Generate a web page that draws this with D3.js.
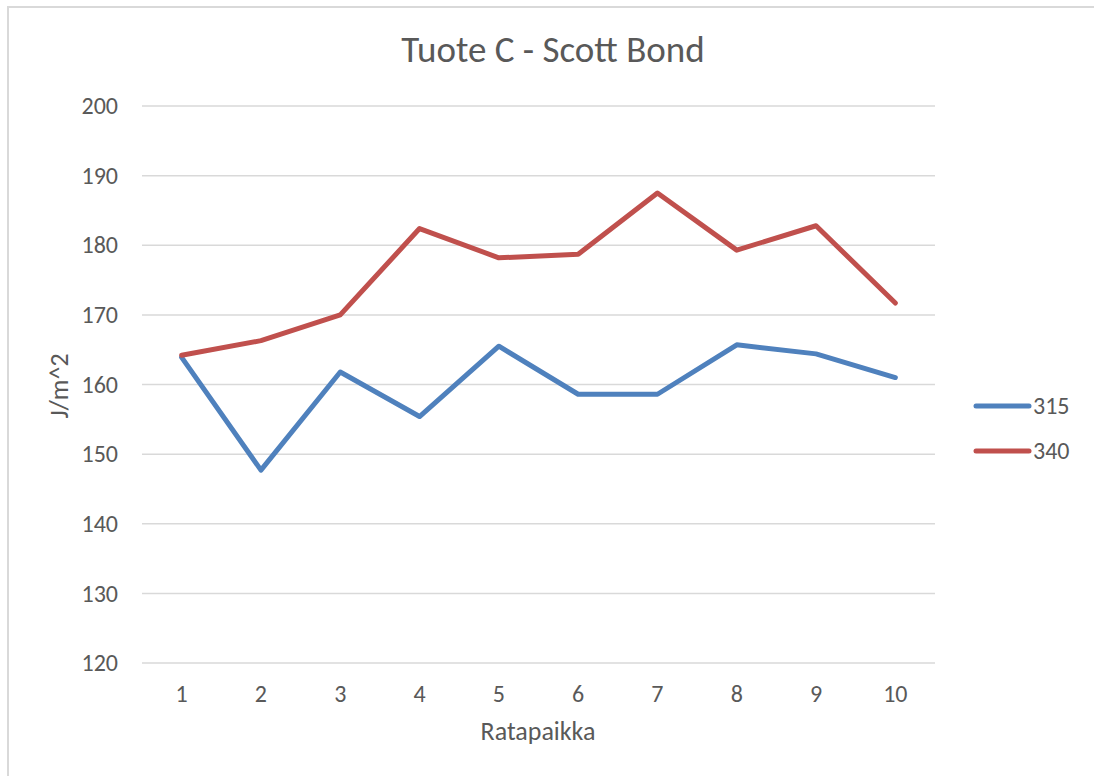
<!DOCTYPE html>
<html>
<head>
<meta charset="utf-8">
<script src="https://cdn.jsdelivr.net/npm/d3@7"></script>
<style>
  body { margin: 0; background: #fff; }
  text { font-family: Carlito, "Open Sans", "Noto Sans", sans-serif; fill: #595959; }
</style>
</head>
<body>
<svg id="chart" width="1094" height="776"></svg>
<script>
// data
const positions = [1, 2, 3, 4, 5, 6, 7, 8, 9, 10];
const series315 = [163.9, 147.7, 161.8, 155.4, 165.5, 158.6, 158.6, 165.7, 164.4, 161.0];
const series340 = [164.2, 166.3, 170.0, 182.4, 178.2, 178.7, 187.5, 179.3, 182.8, 171.7];
const yTicks = [120, 130, 140, 150, 160, 170, 180, 190, 200];
const seriesNames = ["315", "340"];
const colors = ["#4f81bd", "#c0504d"];

const svg = d3.select("#chart");
const margin = { top: 106, left: 142, right: 159, bottom: 113 };
const width = 1094, height = 776;
const fontFam = 'Carlito, "Open Sans", sans-serif';

// outer border (chart area frame, cut off on right/bottom)
svg.append("rect")
  .attr("x", 8).attr("y", 7)
  .attr("width", width + 10).attr("height", height + 10)
  .attr("fill", "#fff")
  .attr("stroke", "#d9d9d9")
  .attr("stroke-width", 2);

const x = d3.scaleBand()
  .domain(positions)
  .range([margin.left, width - margin.right])
  .padding(0);

const y = d3.scaleLinear()
  .domain([120, 200])
  .range([height - margin.bottom, margin.top]);

// gridlines
svg.append("g")
  .selectAll("line")
  .data(yTicks)
  .enter()
  .append("line")
  .attr("x1", margin.left)
  .attr("x2", width - margin.right)
  .attr("y1", (d) => y(d))
  .attr("y2", (d) => y(d))
  .attr("stroke", "#d9d9d9")
  .attr("stroke-width", 1.5);

// y axis labels
const yAxis = svg.append("g")
  .attr("transform", `translate(${margin.left - 24},0)`)
  .call(d3.axisLeft(y).tickValues(yTicks).tickSize(0).tickPadding(0));
yAxis.select(".domain").remove();
yAxis.selectAll("text")
  .attr("font-size", 24)
  .attr("fill", "#595959")
  .style("font-family", fontFam);

// x axis labels
const xAxis = svg.append("g")
  .attr("transform", `translate(0,702)`)
  .call(d3.axisBottom(x).tickSize(0).tickPadding(0));
xAxis.select(".domain").remove();
xAxis.selectAll("text")
  .attr("y", 0)
  .attr("dy", 0)
  .attr("font-size", 24)
  .attr("fill", "#595959")
  .style("font-family", fontFam);

// lines
const line = d3.line()
  .x((d, i) => x(positions[i]) + x.bandwidth() / 2)
  .y((d) => y(d));

[series315, series340].forEach((s, i) => {
  svg.append("path")
    .datum(s)
    .attr("d", line)
    .attr("fill", "none")
    .attr("stroke", colors[i])
    .attr("stroke-width", 5)
    .attr("stroke-linejoin", "round")
    .attr("stroke-linecap", "round");
});

// title
svg.append("text")
  .attr("x", 553)
  .attr("y", 62)
  .attr("text-anchor", "middle")
  .attr("font-size", 37)
  .text("Tuote C - Scott Bond");

// axis titles
svg.append("text")
  .attr("x", 538)
  .attr("y", 740)
  .attr("text-anchor", "middle")
  .attr("font-size", 26)
  .text("Ratapaikka");

svg.append("text")
  .attr("transform", `translate(68,386) rotate(-90)`)
  .attr("text-anchor", "middle")
  .attr("font-size", 26)
  .text("J/m^2");

// legend
const legend = svg.append("g")
  .selectAll("g")
  .data(seriesNames)
  .enter()
  .append("g")
  .attr("transform", (d, i) => `translate(976,${406 + i * 45})`);

legend.append("line")
  .attr("x1", 0).attr("x2", 53)
  .attr("stroke", (d, i) => colors[i])
  .attr("stroke-width", 5)
  .attr("stroke-linecap", "round");

legend.append("text")
  .attr("x", 57)
  .attr("dy", "0.35em")
  .attr("font-size", 24)
  .text((d) => d);
</script>
</body>
</html>
